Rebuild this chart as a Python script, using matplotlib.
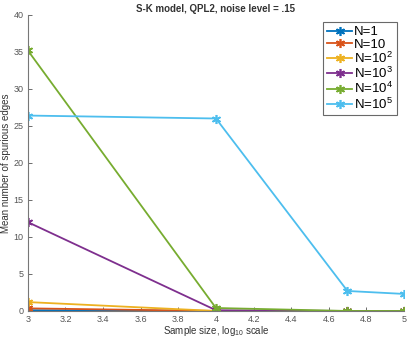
import matplotlib
matplotlib.use("Agg")
import matplotlib.pyplot as plt

x_vals = [3, 4, 4.699, 5]
labels = ["N=1", "N=10", "N=10$^2$", "N=10$^3$", "N=10$^4$", "N=10$^5$"]
n1 = [0.1, 0.0, 0.0, 0.0]
n10 = [0.35, 0.0, 0.0, 0.0]
n100 = [1.2, 0.0, 0.0, 0.0]
n1000 = [12.0, 0.1, 0.0, 0.0]
n10000 = [35.2, 0.4, 0.0, 0.0]
n100000 = [26.4, 26.0, 2.7, 2.3]
series = [n1, n10, n100, n1000, n10000, n100000]
colors = ["#0072BD", "#D95319", "#EDB120", "#7E2F8E", "#77AC30", "#4DBEEE"]

plt.rcParams['font.family'] = ['Liberation Sans', 'DejaVu Sans']
plt.rcParams['mathtext.fontset'] = 'custom'
plt.rcParams['mathtext.rm'] = 'Liberation Sans'
plt.rcParams['mathtext.it'] = 'Liberation Sans:italic'
fig = plt.figure(figsize=(4.09, 3.38), dpi=100)
ax = fig.add_axes([0.068, 0.080, 0.920, 0.876])

for ys, c, lab in zip(series, colors, labels):
    ax.plot(x_vals, ys, color=c, lw=1.3, marker=(6, 2, 0), ms=6.5, mew=1.2, label=lab)

ax.set_xlim(3, 5)
ax.set_ylim(0, 40)
ax.set_xticks([3, 3.2, 3.4, 3.6, 3.8, 4, 4.2, 4.4, 4.6, 4.8, 5])
ax.set_xticklabels(["3", "3.2", "3.4", "3.6", "3.8", "4", "4.2", "4.4", "4.6", "4.8", "5"])
ax.set_yticks([0, 5, 10, 15, 20, 25, 30, 35, 40])
ax.tick_params(direction='in', labelsize=6.5, colors='#555555', length=3, width=0.6, pad=3)
for s in ['top', 'right']:
    ax.spines[s].set_visible(False)
for s in ['left', 'bottom']:
    ax.spines[s].set_color('#777777')
    ax.spines[s].set_linewidth(0.8)
ax.set_xlabel("Sample size, log$_{10}$ scale", fontsize=7, color='#333333', labelpad=0)
ax.set_ylabel("Mean number of spurious edges", fontsize=7, color='#333333', labelpad=2)
ax.set_title("S-K model, QPL2, noise level = .15", fontsize=7, fontweight='bold', color='#333333', pad=2)

leg = ax.legend(loc='upper right', bbox_to_anchor=(0.98, 0.975), fontsize=9.5, frameon=True,
                fancybox=False, edgecolor='#444444', handlelength=1.9, handletextpad=0.1,
                labelspacing=0.0, borderpad=0.3, borderaxespad=0)
leg.get_frame().set_linewidth(0.8)

fig.savefig("out.png", dpi=100)
